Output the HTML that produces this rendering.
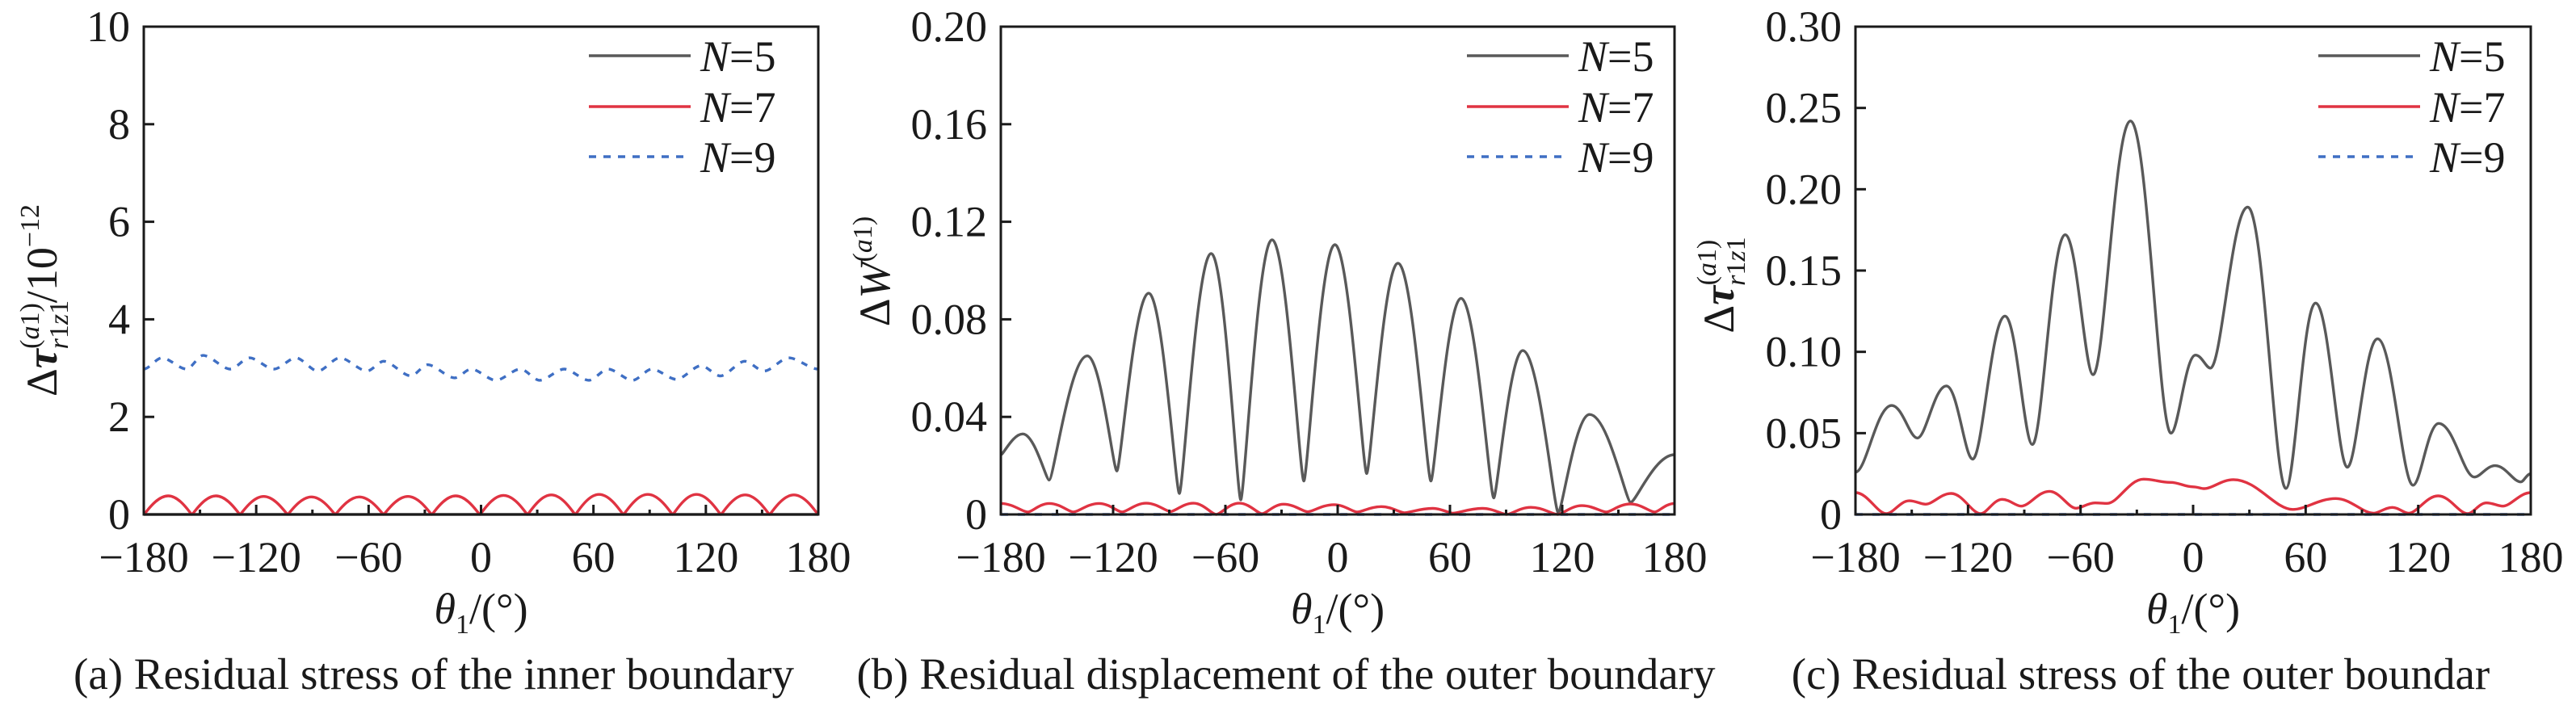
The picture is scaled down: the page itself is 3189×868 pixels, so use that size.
<!DOCTYPE html>
<html><head><meta charset="utf-8"><style>
html,body{margin:0;padding:0;background:#fff;}
svg{display:block;font-family:"Liberation Serif","DejaVu Serif",serif;}
</style></head><body>
<svg id="fig" width="3189" height="868" viewBox="0 0 3189 868" xmlns="http://www.w3.org/2000/svg">
<g id="panels"></g>
</svg>
<script>
// ---------- data ----------
const xTicks = [-180,-120,-60,0,60,120,180];
const xMinor = [-150,-90,-30,30,90,150];
const yTicksA = [0,2,4,6,8,10];
const yTicksB = [0,0.04,0.08,0.12,0.16,0.20];
const yTicksC = [0,0.05,0.10,0.15,0.20,0.25,0.30];
const yTickLabelsA = ["0","2","4","6","8","10"];
const yTickLabelsB = ["0","0.04","0.08","0.12","0.16","0.20"];
const yTickLabelsC = ["0","0.05","0.10","0.15","0.20","0.25","0.30"];
const legendLabels = ["5","7","9"];

// panel (a)
const aN5Theta = [-180,180];
const aN5Val = [0,0];
const aN7Theta = [-180,-167,-154.3,-141.5,-128.6,-116,-103.2,-90.5,-77.8,-65,-52,-39,-26.3,-13.5,-0.6,12,24.8,37.5,50.3,63,76,89,102.3,115,128,141,154,167,180];
const aN7Val = [0,0.38,0,0.38,0,0.37,0,0.36,0,0.36,0,0.37,0,0.38,0,0.39,0,0.40,0,0.41,0,0.41,0,0.41,0,0.40,0,0.40,0];
const aN9Theta = [-180,-170.4,-157.2,-148.4,-133.8,-123.6,-110.5,-98.8,-87.1,-75.4,-60.8,-52,-37.4,-28.6,-14,-5.3,7.9,21,31.3,44.4,57.6,67.8,80.9,91.2,104.3,117.5,127.7,140.8,151.1,164.2,180];
const aN9Val = [2.98,3.21,2.98,3.26,2.98,3.21,2.98,3.21,2.94,3.21,2.94,3.14,2.84,3.07,2.80,2.98,2.75,2.98,2.75,2.98,2.75,2.98,2.75,2.98,2.77,3.05,2.84,3.14,2.94,3.21,2.98];

// panel (b)
const bN5Theta = [-180,-168.3,-154.2,-133.8,-118,-101,-84.6,-67.6,-51.8,-35.1,-18.1,-1.5,15.5,32.2,49.8,65.9,83.4,98.9,117.9,134.6,156.6,180];
const bN5Val = [0.0245,0.033,0.0141,0.065,0.0178,0.0907,0.0086,0.107,0.006,0.1126,0.0137,0.1106,0.0168,0.103,0.0137,0.0886,0.0068,0.0672,0.0007,0.041,0.005,0.0245];
const bN7Theta = [-180,-165.6,-154.1,-141.2,-127.5,-115.2,-102.3,-89.3,-77.1,-64.9,-52.6,-40.4,-28.9,-16,-2,10.4,23.3,35.6,50.7,61.5,77.3,90.3,103.2,117.6,130.5,143.5,156.4,169.4,180];
const bN7Val = [0.0045,0.001,0.0045,0.001,0.0045,0.001,0.0046,0.0012,0.0046,0,0.0046,0.0003,0.0042,0.0011,0.004,0.001,0.0032,0.0007,0.0025,0.0005,0.0025,0,0.0029,0,0.0036,0.001,0.0043,0.001,0.0045];
const bN9Theta = [-180,180];
const bN9Val = [0,0];

// panel (c)
const cN5Theta = [-180,-160.7,-147,-131.5,-117.5,-100.3,-85.7,-68.2,-53.3,-33.4,-11.8,1.3,9.2,29.1,49.5,65.3,82.2,98.3,117.2,130.9,149.9,161,174.7,180];
const cN5Val = [0.026,0.067,0.047,0.079,0.034,0.122,0.043,0.172,0.086,0.242,0.050,0.098,0.090,0.189,0.016,0.130,0.029,0.108,0.018,0.056,0.023,0.030,0.020,0.025];
const cN7Theta = [-180,-163.5,-151.3,-142.7,-129,-113.3,-101.8,-91.7,-76.7,-62.3,-52.3,-45.8,-26.4,-12.1,0,5.7,21.5,53.1,76.1,96.2,106.2,114.8,130.6,146.4,156.4,165,180];
const cN7Val = [0.0134,0.0005,0.0084,0.0063,0.0129,0.0005,0.0093,0.0051,0.0142,0.0038,0.0071,0.0068,0.0217,0.0197,0.017,0.0159,0.0214,0.0031,0.0098,0.0008,0.0043,0.0008,0.0114,0.0005,0.0071,0.0051,0.0134];
const cN9Theta = [-180,180];
const cN9Val = [0,0];

// ---------- rendering ----------
const NS = "http://www.w3.org/2000/svg";
const root = document.getElementById('panels');
function mk(tag, attrs, parent){
  const e = document.createElementNS(NS, tag);
  for (const k in attrs) e.setAttribute(k, attrs[k]);
  (parent||root).appendChild(e);
  return e;
}
const TOP = 33, BOT = 637;
const colors = {n5:"#595959", n7:"#e03342", n9:"#3f6fc4"};

function smoothPath(xs, ys, kPeak, kTrough){
  let d = "M" + xs[0].toFixed(1) + "," + ys[0].toFixed(1);
  const n = xs.length;
  const kOf = i => {
    const prev = i>0 ? ys[i-1] : ys[i+1];
    const next = i<n-1 ? ys[i+1] : ys[i-1];
    return (ys[i] > prev && ys[i] > next) ? kTrough : kPeak;
  };
  for (let i=0;i<n-1;i++){
    const dx = xs[i+1]-xs[i];
    const c1x = xs[i] + dx*kOf(i), c2x = xs[i+1] - dx*kOf(i+1);
    d += " C" + c1x.toFixed(1)+","+ys[i].toFixed(1)+" "+c2x.toFixed(1)+","+ys[i+1].toFixed(1)+" "+xs[i+1].toFixed(1)+","+ys[i+1].toFixed(1);
  }
  return d;
}

function panel(cfg){
  const g = mk('g', {});
  
  
  const xs = v => cfg.x0 + (v+180)/360*(cfg.x1-cfg.x0);
  const ys = v => BOT - v/cfg.ymax*(BOT-TOP);

  cfg.series.forEach(s=>{
    const px = s.theta.map(xs), py = s.val.map(ys);
    const p = mk('path', {d: smoothPath(px, py, s.kp, s.kt), fill:"none", stroke:s.color, "stroke-width":s.w||3.4, "stroke-dasharray":s.dash||"none", "stroke-linejoin":"round"}, g);
    
    
  });

  const fr = mk('rect', {x:cfg.x0, y:TOP, width:cfg.x1-cfg.x0, height:BOT-TOP, fill:"none", stroke:"#1a1a1a", "stroke-width":3}, g);
  
  

  xTicks.forEach(t=>{
    const x = xs(t);
    const l = mk('line', {x1:x, x2:x, y1:BOT, y2:BOT-12, stroke:"#1a1a1a", "stroke-width":3}, g);
    
    
    const tx = mk('text', {x:x, y:708, "text-anchor":"middle", "font-size":54, fill:"#1a1a1a"}, g);
    
    
    tx.textContent = t<0 ? "\u2212"+(-t) : String(t);
  });
  xMinor.forEach(t=>{
    const x = xs(t);
    const l = mk('line', {x1:x, x2:x, y1:BOT, y2:BOT-6, stroke:"#1a1a1a", "stroke-width":3}, g);
    
    
  });
  cfg.yTicks.forEach((t,i)=>{
    const y = ys(t);
    const l = mk('line', {x1:cfg.x0, x2:cfg.x0+13, y1:y, y2:y, stroke:"#1a1a1a", "stroke-width":3}, g);
    
    
    const tx = mk('text', {x:cfg.x0-17, y:y+18, "text-anchor":"end", "font-size":54, fill:"#1a1a1a"}, g);
    
    
    tx.textContent = cfg.yLabels[i];
  });

  const lg = mk('g', {}, g);
  
  
  const ly = [69,132,194];
  const lc = [colors.n5, colors.n7, colors.n9];
  const ld = ["none","none","9 9"];
  legendLabels.forEach((lab,i)=>{
    const l = mk('line', {x1:cfg.lx, x2:cfg.lx+126, y1:ly[i], y2:ly[i], stroke:lc[i], "stroke-width":3.4, "stroke-dasharray":ld[i]}, lg);
    
    
    const t = mk('text', {x:cfg.lx+138, y:ly[i]+19, "font-size":54, fill:"#1a1a1a"}, lg);
    
    
    t.innerHTML = '<tspan font-style="italic">N</tspan>=' + lab;
  });

  const xt = mk('text', {x:(cfg.x0+cfg.x1)/2, y:772, "text-anchor":"middle", "font-size":54, fill:"#1a1a1a"}, g);
  
  
  xt.innerHTML = '<tspan font-style="italic">θ</tspan><tspan font-size="34" dy="12">1</tspan><tspan dy="-12">/(°)</tspan>';

  const yt = mk('text', {transform:"translate("+cfg.ytx+","+cfg.yty+") rotate(-90)", "text-anchor":"middle", "font-size":54, fill:"#1a1a1a"}, g);
  
  
  yt.innerHTML = cfg.ytitle;

  const cp = mk('text', {x:cfg.capx, y:853, "text-anchor":"middle", "font-size":55, fill:"#1a1a1a"}, g);
  
  
  cp.textContent = cfg.caption;
}

const tauTitle = '<tspan>Δ</tspan><tspan font-style="italic" font-weight="bold">τ</tspan>'+
  '<tspan font-size="34" dy="14" font-style="italic">r</tspan><tspan font-size="34">1</tspan><tspan font-size="34" font-style="italic">z</tspan><tspan font-size="34">1</tspan>'+
  '<tspan font-size="34" dx="-60" dy="-36">(</tspan><tspan font-size="34" font-style="italic">a</tspan><tspan font-size="34">1)</tspan>';

panel({name:"panel-a-inner-stress", x0:178, x1:1013, ymax:10, yTicks:yTicksA, yLabels:yTickLabelsA, lx:729,
  ytx:70, yty:372, capx:537, caption:"(a) Residual stress of the inner boundary",
  ytitle: tauTitle + '<tspan dy="22">/10</tspan><tspan font-size="34" dy="-22">−12</tspan>',
  series:[
    {name:"series-n5", theta:aN5Theta, val:aN5Val, color:colors.n5, kp:0.3, kt:0.3},
    {name:"series-n7", theta:aN7Theta, val:aN7Val, color:colors.n7, kp:0.5, kt:0.05},
    {name:"series-n9", theta:aN9Theta, val:aN9Val, color:colors.n9, kp:0.3, kt:0.3, dash:"8 9"}
  ]});
panel({name:"panel-b-outer-displacement", x0:1239, x1:2073, ymax:0.20, yTicks:yTicksB, yLabels:yTickLabelsB, lx:1816,
  ytx:1101, yty:336, capx:1592, caption:"(b) Residual displacement of the outer boundary",
  ytitle:'<tspan>Δ</tspan><tspan font-style="italic">W</tspan><tspan font-size="34" dy="-22">(</tspan><tspan font-size="34" font-style="italic">a</tspan><tspan font-size="34">1)</tspan>',
  series:[
    {name:"series-n5", theta:bN5Theta, val:bN5Val, color:colors.n5, kp:0.45, kt:0.12},
    {name:"series-n7", theta:bN7Theta, val:bN7Val, color:colors.n7, kp:0.45, kt:0.2},
    {name:"series-n9", theta:bN9Theta, val:bN9Val, color:colors.n9, kp:0.3, kt:0.3, dash:"9 12"}
  ]});
panel({name:"panel-c-outer-stress", x0:2297, x1:3133, ymax:0.30, yTicks:yTicksC, yLabels:yTickLabelsC, lx:2870,
  ytx:2146, yty:353, capx:2650, caption:"(c) Residual stress of the outer boundar",
  ytitle: tauTitle,
  series:[
    {name:"series-n5", theta:cN5Theta, val:cN5Val, color:colors.n5, kp:0.42, kt:0.3},
    {name:"series-n7", theta:cN7Theta, val:cN7Val, color:colors.n7, kp:0.4, kt:0.3},
    {name:"series-n9", theta:cN9Theta, val:cN9Val, color:colors.n9, kp:0.3, kt:0.3, dash:"9 12"}
  ]});
</script>
</body></html>
